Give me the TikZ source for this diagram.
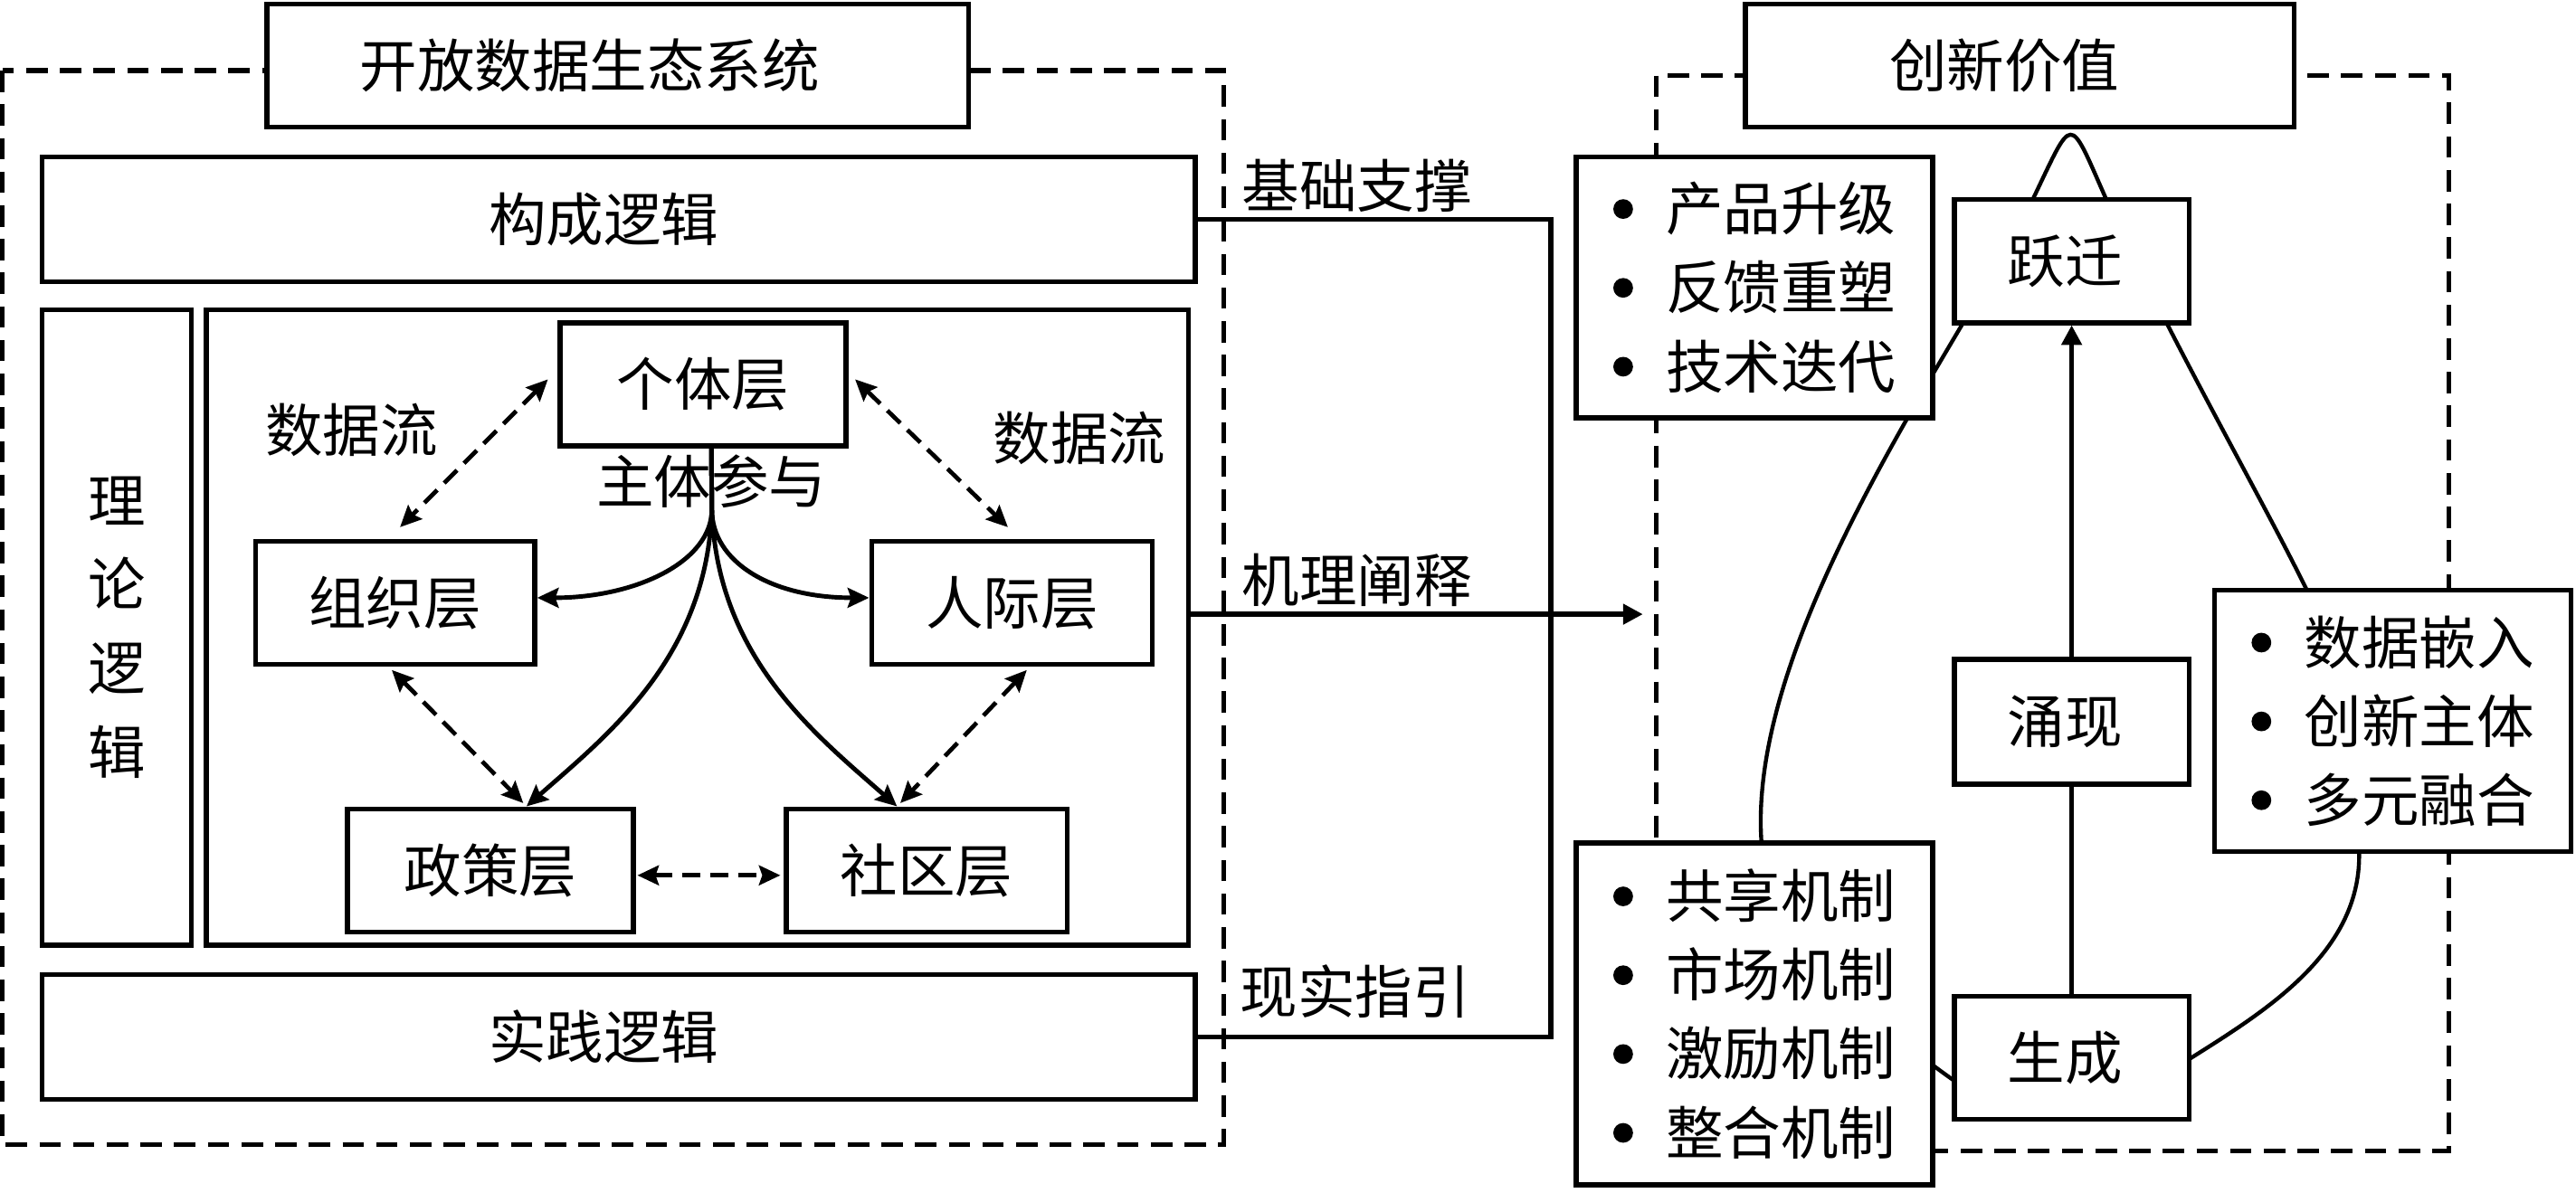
\documentclass[tikz,border=0pt]{standalone}
\usepackage{fontspec}
\newfontfamily\cjk{Noto Sans CJK SC}
\usetikzlibrary{arrows.meta,calc}
\newcommand\bul{\tikz[baseline=0pt]\fill (6pt,13pt) circle[radius=6pt];\hspace{20pt}}
\begin{document}
\begin{tikzpicture}[x=1pt,y=-1pt,
  txt/.style={font=\cjk\fontsize{35pt}{48pt}\selectfont, inner sep=0pt},
  box/.style={txt, draw, line width=3pt, fill=white},
  dbox/.style={line width=2.9pt, dash pattern=on 13pt off 7.5pt},
  link/.style={line width=2.9pt},
  tip/.style={-{Triangle[length=12pt,width=12pt]}},
  sarr/.style={line width=2.7pt, -{Stealth[length=13pt,width=12pt,inset=2pt]}},
  darr/.style={line width=2.6pt, dash pattern=on 11pt off 6pt,
    {Stealth[length=13pt,width=12pt,inset=2pt]}-{Stealth[length=13pt,width=12pt,inset=2pt]}},
  tear/.style={line width=2.4pt},
]
\useasboundingbox (0,0) rectangle (1568,726);

% ---------- left part ----------
\draw[dbox] (1.5,43) rectangle (745,697);
\node[box, minimum width=427pt, minimum height=75pt] (t1) at (376,40) {开放数据生态系统\kern34pt};
\node[box, minimum width=702pt, minimum height=76pt] (gcl) at (376.5,133.5) {构成逻辑\kern18pt};
\node[box, minimum width=91pt, minimum height=387pt, align=center,
      font=\cjk\fontsize{35pt}{51pt}\selectfont] (llx) at (71,382) {理\\论\\逻\\辑};
\node[box, minimum width=598pt, minimum height=387pt] (inner) at (424.5,382) {};
\node[box, minimum width=702pt, minimum height=76pt] (sjl) at (376.5,631.5) {实践逻辑\kern18pt};

\node[box, minimum width=174pt, minimum height=75pt] (ind) at (428,234) {个体层};
\node[box, minimum width=170pt, minimum height=75pt] (org) at (240.5,367) {组织层};
\node[box, minimum width=171pt, minimum height=75pt] (ppl) at (616,367) {人际层};
\node[box, minimum width=174pt, minimum height=75pt] (pol) at (298.5,530) {政策层};
\node[box, minimum width=171pt, minimum height=75pt] (com) at (564,530) {社区层};

\node[txt] (df1) at (214,262) {数据流};
\node[txt] (df2) at (657,267) {数据流};
\node[txt] (ztcy) at (433,293) {主体参与};

\coordinate (br) at (433.3,310);
\draw[sarr] ([xshift=5pt]ind.south) -- (br) .. controls +(0,32) and +(60,0) .. ([yshift=3pt]org.east);
\draw[sarr] ([xshift=5pt]ind.south) -- (br) .. controls +(0,32) and +(-60,0) .. ([yshift=3pt]ppl.west);
\draw[sarr] ([xshift=5pt]ind.south) -- (br) .. controls +(-3,90) and +(50,-44) .. ([xshift=22pt]pol.north);
\draw[sarr] ([xshift=5pt]ind.south) -- (br) .. controls +(3,90) and +(-50,-44) .. ([xshift=-18pt]com.north);

\draw[darr] ([xshift=-6pt,yshift=3pt]ind.west) -- ([xshift=3pt,yshift=7pt]org.north);
\draw[darr] ([xshift=4pt,yshift=3pt]ind.east) -- ([xshift=-2.5pt,yshift=7pt]ppl.north);
\draw[darr] ([xshift=-2pt,yshift=-2pt]org.south) -- ([xshift=20pt,yshift=2pt]pol.north);
\draw[darr] ([xshift=9pt,yshift=-2pt]ppl.south) -- ([xshift=-16pt,yshift=2pt]com.north);
\draw[darr] ([xshift=1pt,yshift=-3pt]pol.east) -- ([xshift=-2pt,yshift=-3pt]com.west);

% ---------- links between parts ----------
\coordinate (bx) at (944,382);
\coordinate (mech) at (1000,374);
\draw[link] (gcl.east) -| (bx) |- (sjl.east);
\draw[link, tip] ([yshift=8pt]inner.east) -- (mech);
\node[txt] (lb1) at (826,113) {基础支撑};
\node[txt] (lb2) at (826,353) {机理阐释};
\node[txt] (lb3) at (825,604) {现实指引};

% ---------- right part ----------
\draw[dbox] (1008,46) rectangle (1490.5,701);
\draw[tear] (1281,119) .. controls (1259,69) and (1262,70) .. (1238,120)
  .. controls (1200,200) and (1065,380) .. (1072,510)
  .. controls (1075,570) and (1150,630) .. (1188,657)
  .. controls (1226,684) and (1288,673) .. (1334,644)
  .. controls (1380,615) and (1436,580) .. (1436,521)
  .. controls (1436,470) and (1432,416) .. (1403.5,358)
  .. controls (1375,300) and (1320,205) .. (1281,119) -- cycle;

\node[box, minimum width=334pt, minimum height=75pt] (cx) at (1229.5,40) {创新价值\kern19pt};
\node[box, minimum width=217pt, minimum height=159pt, align=left] (lst1) at (1068,175)
  {\bul 产品升级\\\bul 反馈重塑\\\bul 技术迭代};
\node[box, minimum width=217pt, minimum height=208pt, align=left] (lst2) at (1068,617.4)
  {\bul 共享机制\\\bul 市场机制\\\bul 激励机制\\\bul 整合机制};
\node[box, minimum width=217pt, minimum height=159pt, align=left] (lst3) at (1456.5,439)
  {\bul 数据嵌入\\\bul 创新主体\\\bul 多元融合};
\node[box, minimum width=143pt, minimum height=75pt] (yq) at (1261,159) {跃迁\kern8pt};
\node[box, minimum width=143pt, minimum height=76pt] (yx) at (1261,439.5) {涌现\kern8pt};
\node[box, minimum width=143pt, minimum height=75pt] (sc) at (1261,644) {生成\kern8pt};

\draw[link] (sc) -- (yx);
\draw[link, tip] (yx) -- (yq);
\end{tikzpicture}
\end{document}
